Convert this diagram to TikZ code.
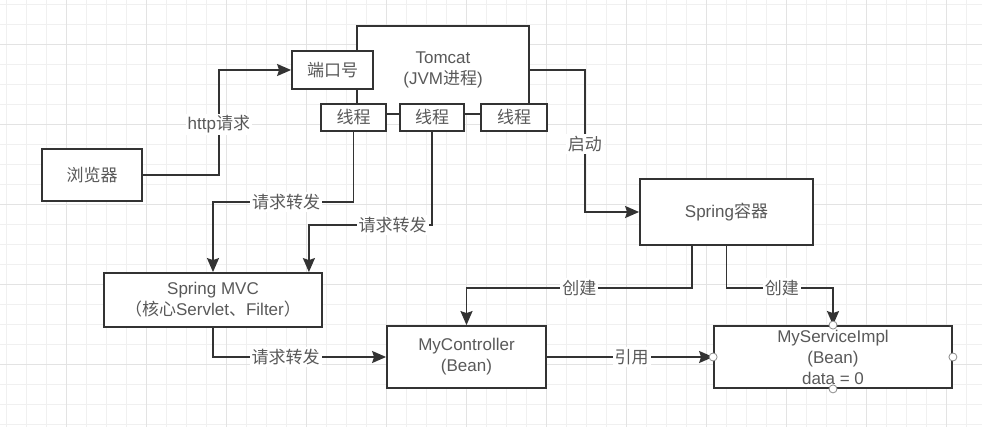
\documentclass[tikz,border=0pt]{standalone}
\usepackage{fontspec}
\setmainfont{Liberation Sans}
\newfontfamily\cjk{Noto Sans CJK SC}
\newcommand\zhs[1]{{\cjk #1}}
\usepackage{tikz}
\usetikzlibrary{arrows.meta}

\begin{document}
\begin{tikzpicture}[x=1pt, y=-1pt, line width=1.8pt,
  box/.style = {draw=black!80, fill=white, align=center, text=black!65, inner sep=0pt,
    font=\fontsize{17}{21}\selectfont},
  lbl/.style = {fill=white, text=black!65, inner sep=2pt, font=\fontsize{17}{21}\selectfont},
  arr/.style = {draw=black!80, -{Stealth[length=14pt,width=12pt,inset=2pt]}},
  hdl/.style = {circle, draw=black!45, fill=white, line width=0.8pt, inner sep=0pt, minimum size=8pt}]
  \useasboundingbox (0,0) rectangle (982,427);
  \begin{scope}
    \clip (0,0) rectangle (982,427);
    \draw[gray!12, line width=0.8pt, shift={(6,4)}, step=20pt] (-20,-20) grid (1000,440);
    \draw[gray!22, line width=0.9pt, shift={(66,44)}, step=80pt] (-80,-80) grid (960,400);
  \end{scope}
  \node[box, minimum width=100pt, minimum height=52pt] (browser) at (92,175) {\zhs{浏览器}};
  \node[box, minimum width=172pt, minimum height=88pt] (tomcat) at (443,70) {Tomcat\\(JVM\zhs{进程})};
  \node[box, minimum width=81pt, minimum height=38pt] (port) at (332.5,70) {\zhs{端口号}};
  \node[box, minimum width=65pt, minimum height=27pt] (t1) at (353.5,117.5) {\zhs{线程}};
  \node[box, minimum width=64pt, minimum height=27pt] (t2) at (432,117.5) {\zhs{线程}};
  \node[box, minimum width=66pt, minimum height=27pt] (t3) at (514,117.5) {\zhs{线程}};
  \node[box, minimum width=173pt, minimum height=66pt] (spring) at (726.5,212) {Spring\zhs{容器}};
  \node[box, minimum width=218pt, minimum height=54pt] (mvc) at (213,300) {Spring MVC\\\zhs{（核心}Servlet\zhs{、}Filter\zhs{）}};
  \node[box, minimum width=159pt, minimum height=62pt] (ctrl) at (466.5,357) {MyController\\(Bean)};
  \node[box, minimum width=238pt, minimum height=62pt] (svc) at (833,357) {MyServiceImpl\\(Bean)\\data = 0};
  \draw[arr] (browser.east) -- ++(76,0) |- node[lbl, pos=0.24] {http\zhs{请求}} (port.west);
  \draw[arr] (tomcat.east) -- ++(55,0) |- node[lbl, pos=0.26] {\zhs{启动}} (spring.west);
  \draw[arr] (t1.south) -- ++(0,70) -| node[lbl, pos=0.24] {\zhs{请求转发}} (mvc.north);
  \draw[arr] (t2.south) -- ++(0,93) -| node[lbl, pos=0.16] {\zhs{请求转发}} ([xshift=-14pt]mvc.north east);
  \draw[arr] (mvc.south) |- node[lbl, pos=0.71] {\zhs{请求转发}} (ctrl.west);
  \draw[arr] ([xshift=-34.5pt]spring.south) -- ++(0,42) -| node[lbl, pos=0.25] {\zhs{创建}} (ctrl.north);
  \draw[arr] (spring.south) -- ++(0,42) -| node[lbl, pos=0.26] {\zhs{创建}} (svc.north);
  \draw[arr] (ctrl.east) -- node[lbl, pos=0.51] {\zhs{引用}} (svc.west);
  \node[hdl] (hn) at (svc.north) {};
  \node[hdl] (hs) at (svc.south) {};
  \node[hdl] (he) at (svc.east) {};
  \node[hdl] (hw) at (svc.west) {};
\end{tikzpicture}
\end{document}
